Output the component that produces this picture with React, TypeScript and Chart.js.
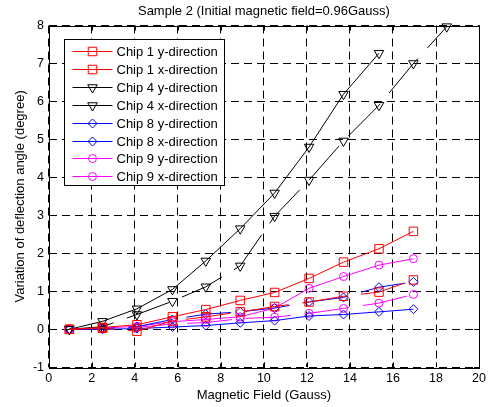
import React, { useEffect, useRef } from 'react';
import { Chart, registerables } from 'chart.js';

Chart.register(...registerables);

// ---------- data ----------
const FIELD = [0.96, 2.5, 4.1, 5.75, 7.3, 8.9, 10.5, 12.1, 13.7, 15.35, 16.95, 18.5];

const CHIP1_Y = [0, 0.05, 0.12, 0.33, 0.52, 0.76, 0.97, 1.34, 1.77, 2.12, 2.58];
const CHIP1_X = [0, 0.03, -0.05, 0.22, 0.33, 0.46, 0.6, 0.72, 0.87, 0.98, 1.3];
const CHIP4_Y = [0, 0.21, 0.54, 1.05, 1.8, 2.65, 3.59, 4.8, 6.19, 7.27];
const CHIP4_X = [0, 0.07, 0.39, 0.74, 1.12, 1.67, 2.98, 3.93, 4.96, 5.9, 7.0, 7.97];
const CHIP8_Y = [0, 0.0, 0.02, 0.06, 0.1, 0.17, 0.23, 0.35, 0.39, 0.46, 0.53];
const CHIP8_X = [0, 0.02, 0.07, 0.26, 0.4, 0.46, 0.56, 0.72, 0.84, 1.11, 1.25];
const CHIP9_Y = [0, 0.03, 0.08, 0.2, 0.26, 0.33, 0.56, 1.08, 1.39, 1.69, 1.86];
const CHIP9_X = [0, 0.02, 0.05, 0.14, 0.18, 0.28, 0.32, 0.42, 0.55, 0.69, 0.92];

const SERIES_NAMES = [
  'Chip 1 y-direction',
  'Chip 1 x-direction',
  'Chip 4 y-direction',
  'Chip 4 x-direction',
  'Chip 8 y-direction',
  'Chip 8 x-direction',
  'Chip 9 y-direction',
  'Chip 9 x-direction',
];

const TITLE = 'Sample 2 (Initial magnetic field=0.96Gauss)';
const X_LABEL = 'Magnetic Field (Gauss)';
const Y_LABEL = 'Variation of deflection angle (degree)';

const X_MIN = 0;
const X_MAX = 20;
const X_STEP = 2;
const Y_MIN = -1;
const Y_MAX = 8;
const Y_STEP = 1;

// ---------- helpers ----------
const FONT = "'Liberation Sans', Arial, sans-serif";

function pts(values: number[]) {
  return values.map((v, i) => ({ x: FIELD[i], y: v }));
}

const DASH_X = [45, 14];

function drawMarker(ctx: CanvasRenderingContext2D, style: string, x: number, y: number, r: number, rot: number) {
  ctx.beginPath();
  if (style === 'rect') {
    const s = r * Math.SQRT1_2;
    ctx.rect(x - s, y - s, 2 * s, 2 * s);
  } else if (style === 'triangle') {
    let rad = (rot * Math.PI) / 180;
    ctx.moveTo(x + Math.sin(rad) * r, y - Math.cos(rad) * r);
    rad += (2 * Math.PI) / 3;
    ctx.lineTo(x + Math.sin(rad) * r, y - Math.cos(rad) * r);
    rad += (2 * Math.PI) / 3;
    ctx.lineTo(x + Math.sin(rad) * r, y - Math.cos(rad) * r);
    ctx.closePath();
  } else if (style === 'rectRot') {
    ctx.moveTo(x - r, y);
    ctx.lineTo(x, y - r);
    ctx.lineTo(x + r, y);
    ctx.lineTo(x, y + r);
    ctx.closePath();
  } else {
    ctx.arc(x, y, r, 0, Math.PI * 2);
  }
  ctx.stroke();
}

const framePlugin = {
  id: 'matlabFrame',
  afterDatasetsDraw(chart: any) {
    const { ctx, chartArea: ca, scales } = chart;
    ctx.save();
    ctx.strokeStyle = '#000';
    ctx.lineWidth = 1;
    ctx.setLineDash([]);
    const tl = 5;
    ctx.beginPath();
    scales.x.ticks.forEach((t: any) => {
      const px = Math.round(scales.x.getPixelForValue(t.value)) + 0.5;
      ctx.moveTo(px, ca.bottom);
      ctx.lineTo(px, ca.bottom - tl);
      ctx.moveTo(px, ca.top);
      ctx.lineTo(px, ca.top + tl);
    });
    scales.y.ticks.forEach((t: any) => {
      const py = Math.round(scales.y.getPixelForValue(t.value)) + 0.5;
      ctx.moveTo(ca.left, py);
      ctx.lineTo(ca.left + tl, py);
      ctx.moveTo(ca.right, py);
      ctx.lineTo(ca.right - tl, py);
    });
    ctx.stroke();
    ctx.strokeRect(Math.round(ca.left) + 0.5, Math.round(ca.top) + 0.5, Math.round(ca.right - ca.left), Math.round(ca.bottom - ca.top));
    ctx.restore();
  },
};

const legendPlugin = {
  id: 'insideLegend',
  afterDraw(chart: any) {
    const { ctx, chartArea: ca } = chart;
    const left = Math.round(ca.left + 15.6) + 0.5;
    const top = Math.round(ca.top + 13.5) + 0.5;
    const w = 160;
    const h = 146;
    ctx.save();
    ctx.fillStyle = '#fff';
    ctx.fillRect(left, top, w, h);
    ctx.strokeStyle = '#000';
    ctx.lineWidth = 1;
    ctx.setLineDash([]);
    ctx.strokeRect(left, top, w, h);
    ctx.font = `13px ${FONT}`;
    ctx.textBaseline = 'middle';
    ctx.textAlign = 'left';
    chart.data.datasets.forEach((ds: any, i: number) => {
      const y = Math.round(top + 11.7 + i * 17.86) + 0.5;
      ctx.strokeStyle = ds.borderColor;
      ctx.lineWidth = 1;
      ctx.setLineDash([]);
      ctx.beginPath();
      ctx.moveTo(left + 8, y);
      ctx.lineTo(left + 48, y);
      ctx.stroke();
      drawMarker(ctx, ds.pointStyle, left + 28, y, ds.pointRadius, ds.pointRotation || 0);
      ctx.fillStyle = '#000';
      ctx.fillText(ds.label, left + 52, y + 0.5);
    });
    ctx.restore();
  },
};

function makeDataset(label: string, values: number[], color: string, style: string, radius: number, dashed: boolean, rotation = 0) {
  return {
    label,
    data: pts(values),
    borderColor: color,
    backgroundColor: 'rgba(0,0,0,0)',
    pointBorderColor: color,
    pointBackgroundColor: 'rgba(0,0,0,0)',
    pointStyle: style,
    pointRadius: radius,
    pointRotation: rotation,
    pointBorderWidth: 1,
    borderWidth: 1,
    borderDash: dashed ? DASH_X : [],
    tension: 0,
    clip: false as any,
  };
}

export default function App() {
  const canvasRef = useRef<HTMLCanvasElement | null>(null);

  useEffect(() => {
    if (!canvasRef.current) return;
    const datasets = [
      makeDataset(SERIES_NAMES[0], CHIP1_Y, '#ff0000', 'rect', 6, false),
      makeDataset(SERIES_NAMES[1], CHIP1_X, '#ff0000', 'rect', 6, true),
      makeDataset(SERIES_NAMES[2], CHIP4_Y, '#000000', 'triangle', 5.5, false, 180),
      makeDataset(SERIES_NAMES[3], CHIP4_X, '#000000', 'triangle', 5.5, true, 180),
      makeDataset(SERIES_NAMES[4], CHIP8_Y, '#0000ff', 'rectRot', 4.5, false),
      makeDataset(SERIES_NAMES[5], CHIP8_X, '#0000ff', 'rectRot', 4.5, true),
      makeDataset(SERIES_NAMES[6], CHIP9_Y, '#ff00ff', 'circle', 4, false),
      makeDataset(SERIES_NAMES[7], CHIP9_X, '#ff00ff', 'circle', 4, true),
    ];

    const chart = new Chart(canvasRef.current, {
      type: 'line',
      data: { datasets },
      plugins: [framePlugin, legendPlugin],
      options: {
        responsive: false,
        animation: false,
        devicePixelRatio: 1,
        events: [],
        layout: { padding: { left: 0, right: 7.7, top: 0, bottom: 0 } },
        plugins: {
          legend: { display: false },
          tooltip: { enabled: false },
          title: {
            display: true,
            text: TITLE,
            color: '#000',
            fullSize: false,
            font: { family: FONT, size: 13, weight: 'normal' as any, lineHeight: 1.2 },
            padding: { top: 3.7, bottom: 6.2 },
          },
        },
        scales: {
          x: {
            type: 'linear',
            min: X_MIN,
            max: X_MAX,
            afterFit: (s: any) => { s.height = 39.7; },
            ticks: { stepSize: X_STEP, color: '#000', padding: 4, font: { family: FONT, size: 12.5 } },
            grid: { color: '#000', lineWidth: 1, drawTicks: false },
            border: { display: false, dash: [8, 5] },
            title: { display: true, text: X_LABEL, color: '#000', font: { family: FONT, size: 13, lineHeight: 1.2 }, padding: { top: 0, bottom: 4.2 } },
          },
          y: {
            type: 'linear',
            min: Y_MIN,
            max: Y_MAX,
            afterFit: (s: any) => { s.width = 48.7; },
            ticks: { stepSize: Y_STEP, color: '#000', padding: 4.7, font: { family: FONT, size: 12.5 } },
            grid: { color: '#000', lineWidth: 1, drawTicks: false },
            border: { display: false, dash: [8, 5] },
            title: { display: true, text: Y_LABEL, color: '#000', font: { family: FONT, size: 13, lineHeight: 1.2 }, padding: { top: 12.2, bottom: 0 } },
          },
        },
      },
    } as any);
    return () => chart.destroy();
  }, []);

  return (
    <div style={{ position: 'fixed', left: 0, top: 0, width: 490, height: 407, background: '#fff' }}>
      <canvas ref={canvasRef} width={490} height={407} />
    </div>
  );
}
